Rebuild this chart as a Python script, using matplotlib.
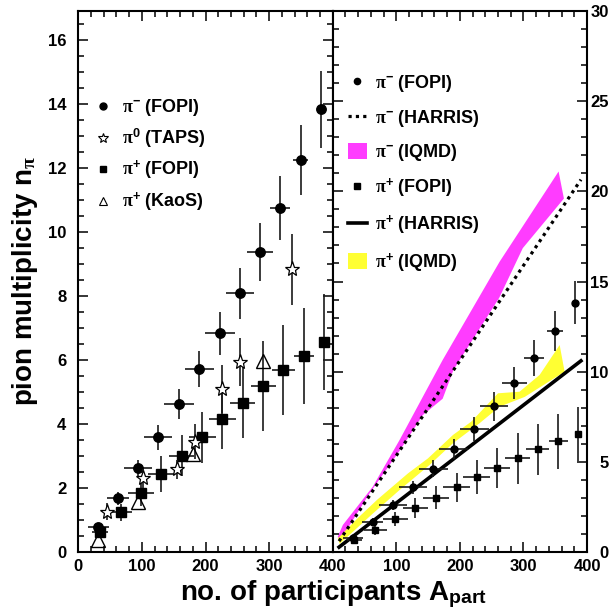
import matplotlib
matplotlib.use('Agg')
import matplotlib.pyplot as plt
from matplotlib.lines import Line2D
from matplotlib.patches import Patch
from matplotlib.ticker import MultipleLocator

plt.rcParams['font.family'] = ['Liberation Sans', 'DejaVu Sans']
plt.rcParams['font.weight'] = 'bold'
plt.rcParams['mathtext.fontset'] = 'custom'
plt.rcParams['mathtext.rm'] = 'Liberation Serif'
plt.rcParams['mathtext.it'] = 'Liberation Serif:italic'
plt.rcParams['mathtext.bf'] = 'Liberation Sans:bold'
plt.rcParams['mathtext.sf'] = 'Liberation Sans'

# ---------------- data ----------------
# pi- (FOPI)
pim_x = [31.5, 62.9, 94.3, 125.8, 158.3, 190.3, 222.8, 254.2, 285.7, 317.1, 349.7, 381.6]
pim_y = [0.79, 1.68, 2.61, 3.58, 4.62, 5.71, 6.83, 8.08, 9.37, 10.76, 12.25, 13.83]
pim_xerr = [16, 17, 22, 22, 23, 23, 23, 22, 20, 16, 12, 0]
pim_yerr = [0.1, 0.2, 0.27, 0.38, 0.48, 0.57, 0.68, 0.8, 0.9, 1.0, 1.1, 1.2]
# pi+ (FOPI)
pip_x = [34.1, 66.7, 98.6, 130.0, 162.6, 195.0, 226.4, 258.5, 290.9, 322.3, 354.9, 386.3]
pip_y = [0.64, 1.24, 1.83, 2.43, 3.01, 3.58, 4.15, 4.67, 5.19, 5.69, 6.13, 6.55]
pip_xerr = [12, 18, 20, 20, 20, 21, 21, 20, 20, 18, 15, 0]
pip_yerr = [0.15, 0.27, 0.4, 0.56, 0.65, 0.8, 0.94, 1.1, 1.4, 1.4, 1.5, 1.5]
# pi0 (TAPS)
pi0_x = [45.6, 102.2, 155.7, 183.5, 225.5, 254.2, 335.5]
pi0_y = [1.26, 2.30, 2.58, 3.45, 5.08, 5.92, 8.83]
pi0_yerr = [0.27, 0.3, 0.3, 0.55, 0.75, 0.75, 1.1]
# pi+ (KaoS)
kaos_x = [31.5, 94.3, 180.8, 290.9]
kaos_y = [0.375, 1.57, 3.06, 5.97]

# HARRIS parametrisations (end points of straight lines)
harris_x = [10.0, 390.5]
harris_pim = [0.60, 20.65]
harris_pip = [0.27, 10.60]

# IQMD bands (polygon outlines: upper edge, then lower edge back)
iqmd_pim_x = [8, 16, 63, 105, 173, 262.6, 355.3, 363.7, 299, 262, 190, 173, 142, 105, 58, 11]
iqmd_pim_y = [0.85, 1.5, 3.62, 6.2, 10.65, 16.1, 21.1, 19.6, 16.85, 14.1, 10.1, 8.5, 7.6, 5.6, 3.25, 0.6]
iqmd_pip_x = [8, 40, 70, 118.4, 149.8, 189.2, 218, 260, 294, 325.5, 357, 364.8,
              302, 262.6, 231, 189.2, 152.5, 105.3, 63.4, 11]
iqmd_pip_y = [0.75, 1.9, 2.9, 4.36, 5.19, 6.49, 7.23, 8.8, 8.89, 9.82, 11.48, 10.0,
              8.6, 8.06, 7.14, 6.03, 4.83, 3.44, 2.14, 0.45]

xticks = [0, 100, 200, 300, 400]
yticks_left = [0, 2, 4, 6, 8, 10, 12, 14, 16]
yticks_right = [0, 5, 10, 15, 20, 25, 30]

MAG = '#ff3cff'
YEL = '#ffff33'
EC = '#1a1a1a'
DOTS = (0, (1, 1.3))

W, H = 611, 615
fig = plt.figure(figsize=(W / 100, H / 100), dpi=100)


def px(x0, y0, x1, y1):
    return [x0 / W, 1 - y1 / H, (x1 - x0) / W, (y1 - y0) / H]


axL = fig.add_axes(px(78.3, 11, 332.7, 552))
axR = fig.add_axes(px(332.7, 11, 587, 552))

# ---------------- left panel ----------------
axL.errorbar(pim_x, pim_y, xerr=pim_xerr, yerr=pim_yerr, fmt='o', color='k', ms=6.8,
             ecolor=EC, elinewidth=1.2, capsize=0, zorder=3)
axL.errorbar(pip_x, pip_y, xerr=pip_xerr, yerr=pip_yerr, fmt='s', color='k', ms=6.6,
             ecolor=EC, elinewidth=1.2, capsize=0, zorder=3)
axL.errorbar(pi0_x, pi0_y, yerr=pi0_yerr, fmt='*', mfc='white', mec='k', mew=0.9, ms=11,
             ecolor=EC, elinewidth=1.2, capsize=0, zorder=4)
axL.plot(kaos_x, kaos_y, '^', mfc='none', mec='k', mew=1.0, ms=10.5, zorder=4)

axL.set_xlim(0, 400)
axL.set_ylim(0, 16.9)
axL.set_xticks(xticks)
axL.set_yticks(yticks_left)
axL.xaxis.set_minor_locator(MultipleLocator(20))
axL.yaxis.set_minor_locator(MultipleLocator(0.5))

hL = [Line2D([], [], marker='o', ls='none', color='k', ms=5),
      Line2D([], [], marker='*', ls='none', mfc='white', mec='k', mew=0.8, ms=7.5),
      Line2D([], [], marker='s', ls='none', color='k', ms=5),
      Line2D([], [], marker='^', ls='none', mfc='white', mec='k', mew=0.8, ms=6)]
labL = [r'$\mathrm{\pi}^{\mathbf{-}}$ (FOPI)', r'$\mathrm{\pi}^{\mathbf{0}}$ (TAPS)',
        r'$\mathrm{\pi}^{\mathbf{+}}$ (FOPI)', r'$\mathrm{\pi}^{\mathbf{+}}$ (KaoS)']
axL.legend(hL, labL, loc='upper left', bbox_to_anchor=(94 / W, 1 - 97 / H),
           bbox_transform=fig.transFigure, frameon=False, borderpad=0, borderaxespad=0,
           handlelength=1.0, handletextpad=0.55, labelspacing=0.48, fontsize=13)

# ---------------- right panel ----------------
axR.fill(iqmd_pim_x, iqmd_pim_y, color=MAG, lw=0, zorder=1)
axR.fill(iqmd_pip_x, iqmd_pip_y, color=YEL, lw=0, zorder=1)
axR.plot(harris_x, harris_pim, color='k', lw=2.3, ls=DOTS, dash_capstyle='butt', zorder=2)
axR.plot(harris_x, harris_pip, color='k', lw=2.6, ls='-', zorder=2)
axR.errorbar(pim_x, pim_y, xerr=pim_xerr, yerr=pim_yerr, fmt='o', color='k', ms=5,
             ecolor=EC, elinewidth=1.2, capsize=0, zorder=3)
axR.errorbar(pip_x, pip_y, xerr=pip_xerr, yerr=pip_yerr, fmt='s', color='k', ms=5,
             ecolor=EC, elinewidth=1.2, capsize=0, zorder=3)

axR.set_xlim(0, 400)
axR.set_ylim(0, 30)
axR.set_xticks(xticks)
axR.set_xticklabels([''] + [str(v) for v in xticks[1:]])
axR.set_yticks(yticks_right)
axR.xaxis.set_minor_locator(MultipleLocator(20))
axR.yaxis.set_minor_locator(MultipleLocator(1))

hR = [Line2D([], [], marker='o', ls='none', color='k', ms=4.5),
      Line2D([], [], color='k', lw=2.3, ls=DOTS, dash_capstyle='butt'),
      Patch(facecolor=MAG, edgecolor='none'),
      Line2D([], [], marker='s', ls='none', color='k', ms=4.5),
      Line2D([], [], color='k', lw=2.6),
      Patch(facecolor=YEL, edgecolor='none')]
labR = [r'$\mathrm{\pi}^{\mathbf{-}}$ (FOPI)', r'$\mathrm{\pi}^{\mathbf{-}}$ (HARRIS)',
        r'$\mathrm{\pi}^{\mathbf{-}}$ (IQMD)', r'$\mathrm{\pi}^{\mathbf{+}}$ (FOPI)',
        r'$\mathrm{\pi}^{\mathbf{+}}$ (HARRIS)', r'$\mathrm{\pi}^{\mathbf{+}}$ (IQMD)']
axR.legend(hR, labR, loc='upper left', bbox_to_anchor=(348 / W, 1 - 73 / H),
           bbox_transform=fig.transFigure, frameon=False, borderpad=0, borderaxespad=0,
           handlelength=1.05, handleheight=1.0, handletextpad=0.45, labelspacing=0.76,
           fontsize=13)

# ---------------- axis styling ----------------
for ax in (axL, axR):
    for s in ax.spines.values():
        s.set_linewidth(1.5)
    ax.tick_params(which='both', direction='in', top=True, bottom=True, left=True, right=True,
                   width=1.1, labelsize=12)
    ax.tick_params(which='major', length=7.5)
    ax.tick_params(which='minor', length=4)
    ax.tick_params(axis='x', pad=5)
    for lab in ax.get_xticklabels() + ax.get_yticklabels():
        lab.set_fontweight('bold')

axL.tick_params(axis='y', pad=8.5)
axR.tick_params(axis='y', labelleft=False, labelright=True, pad=15.5)
for lab in axR.get_yticklabels():
    lab.set_horizontalalignment('right')

fig.text(25 / W, 1 - 281 / H, r'pion multiplicity n$_{\mathrm{\pi}}$', rotation=90,
         ha='center', va='center', fontsize=20, fontweight='bold')
fig.text(333.5 / W, 1 - 594 / H, r'no. of participants A$_{\mathbf{part}}$',
         ha='center', va='center', fontsize=20, fontweight='bold')

fig.savefig('out.png', dpi=100)
